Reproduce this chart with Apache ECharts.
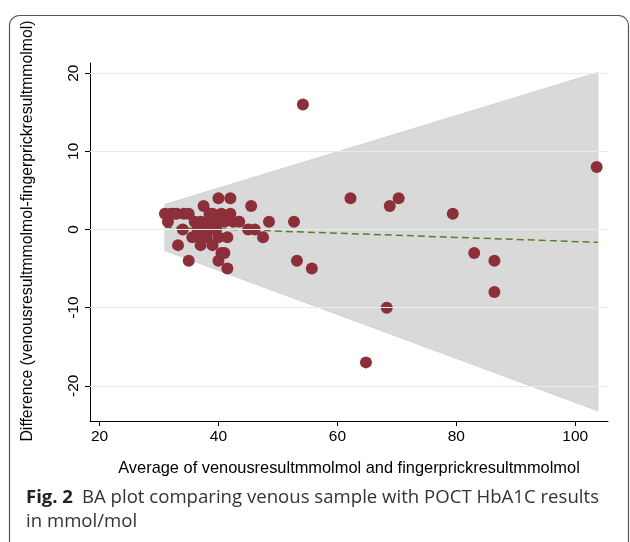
<!DOCTYPE html>
<html><head><meta charset="utf-8">
<script src="https://cdn.jsdelivr.net/npm/echarts@6/dist/echarts.min.js"></script>
<style>html,body{margin:0;padding:0;background:#fff}#c{width:630px;height:542px}</style>
</head><body><div id="c"></div>
<script>
// Bland-Altman points: average (x) and difference (y)
const avgVals = [31, 31.5, 32, 32.5, 33, 34.2, 35, 33.2, 34, 35, 35.6,
  36, 36.5, 37, 37, 37, 37.5, 37.5, 38, 38, 38.6, 38.5, 39, 39, 39.5, 39.6,
  40, 40.3, 40, 40, 40.5, 40.5, 41, 41, 41.5, 41.5, 42, 42, 42.5, 43.5, 45, 45.5, 46.1, 47.5, 48.5, 52.7,
  53.2, 54.2, 55.7, 62.2, 64.8, 68.3, 68.8, 70.3, 79.4, 83, 86.4, 86.4, 103.6];
const diffVals = [2, 1, 2, 2, 2, 2, 2, -2, 0, -4, -1,
  1, 0, 1, -1, -2, 3, 0, 1, -1, 0, 2, 2, -2, 1, 0,
  4, 1, -1, -4, -3, 2, -3, 1, -1, -5, 4, 2, 1, 1, 0, 3, 0, -1, 1, 1,
  -4, 16, -5, 4, -17, -10, 3, 4, 2, -3, -4, -8, 8];
// limits band (regression-based) and mean difference line
const bandX = [31, 103.8];
const bandUpper = [3.2, 20.1];
const bandLower = [-2.7, -23.2];
const meanLineX = [31, 103.8];
const meanLineY = [0.3, -1.64];
const xTicks = [20, 40, 60, 80, 100];
const yTicks = [-20, -10, 0, 10, 20];

const chart = echarts.init(document.getElementById('c'), null, {renderer: 'canvas'});
const pts = avgVals.map((v, i) => [v, diffVals[i]]);
const axFont = 'Liberation Sans, Arial, sans-serif';
const capFont = '"Open Sans", "Noto Sans", sans-serif';
chart.setOption({
  animation: false,
  grid: {left: 90, right: 22, top: 63, bottom: 121},
  xAxis: {
    type: 'value', min: 18.4, max: 105.5,
    name: 'Average of venousresultmmolmol and fingerprickresultmmolmol',
    nameLocation: 'middle', nameGap: 39,
    nameTextStyle: {fontFamily: axFont, fontSize: 16.4, color: '#000'},
    axisLine: {show: true, onZero: false, lineStyle: {color: '#000', width: 1}},
    axisTick: {show: true, length: 5, customValues: xTicks, lineStyle: {color: '#000'}},
    axisLabel: {customValues: xTicks, margin: 8, fontFamily: axFont, fontSize: 15.5, color: '#000'},
    splitLine: {show: false}
  },
  yAxis: {
    type: 'value', min: -24.5, max: 21.3,
    name: 'Difference (venousresultmmolmol-fingerprickresultmmolmol)',
    nameLocation: 'middle', nameGap: 54, nameRotate: 90,
    nameTextStyle: {fontFamily: axFont, fontSize: 15.8, color: '#000', padding: [0, 0, 0, 22]},
    axisLine: {show: true, onZero: false, lineStyle: {color: '#000', width: 1}},
    axisTick: {show: true, length: 5, customValues: yTicks, lineStyle: {color: '#000'}},
    axisLabel: {customValues: yTicks, rotate: 90, margin: 8, fontFamily: axFont, fontSize: 15.5, color: '#000'},
    splitLine: {show: false}
  },
  series: [
    {
      type: 'line', data: [], z: 1, silent: true,
      markLine: {
        silent: true, symbol: ['none', 'none'], label: {show: false},
        lineStyle: {color: '#e4ecee', width: 1, type: 'solid'},
        data: yTicks.map(v => ({yAxis: v}))
      }
    },
    {
      type: 'custom', z: 2, silent: true,
      data: [0],
      renderItem: function (params, api) {
        const p = [];
        for (let i = 0; i < bandX.length; i++) p.push(api.coord([bandX[i], bandUpper[i]]));
        for (let i = bandX.length - 1; i >= 0; i--) p.push(api.coord([bandX[i], bandLower[i]]));
        return {type: 'polygon', shape: {points: p}, style: {fill: '#d9d9d9', stroke: '#d2d2d2', lineWidth: 1}};
      }
    },
    {
      type: 'line', z: 3, silent: true, symbol: 'none',
      data: meanLineX.map((v, i) => [v, meanLineY[i]]),
      lineStyle: {color: '#56802c', width: 1.5, type: [7, 4]}
    },
    {
      type: 'scatter', z: 4, data: pts, symbolSize: 12,
      itemStyle: {color: '#8c2f39', opacity: 1}
    }
  ],
  graphic: [
    {type: 'rect', shape: {x: 9.5, y: 15.5, width: 619, height: 560, r: 10}, style: {fill: 'none', stroke: '#555', lineWidth: 1.2}, z: 10},
    {type: 'text', left: 26, top: 488, style: {text: 'Fig. 2', font: 'bold 18.5px ' + capFont, fill: '#222'}},
    {type: 'text', left: 82, top: 488, style: {text: 'BA plot comparing venous sample with POCT HbA1C results', font: '18.6px ' + capFont, fill: '#333'}},
    {type: 'text', left: 26, top: 512, style: {text: 'in mmol/mol', font: '18.6px ' + capFont, fill: '#333'}}
  ]
});
</script></body></html>
